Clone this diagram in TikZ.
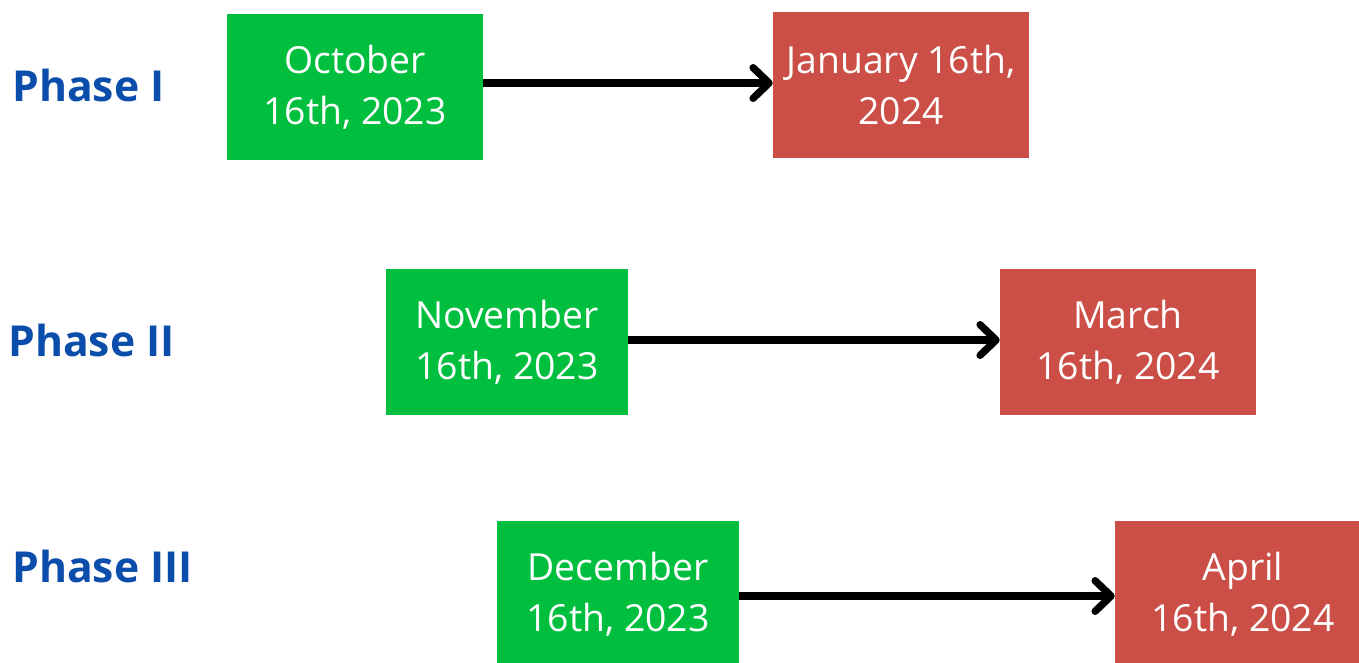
\documentclass[tikz,border=0pt]{standalone}
\usepackage{fontspec}
\setmainfont{Open Sans}
\usetikzlibrary{arrows.meta}
\definecolor{startgreen}{HTML}{00BF3F}
\definecolor{endred}{HTML}{CB4F46}
\definecolor{phaseblue}{HTML}{0B4DAA}
\begin{document}
\begin{tikzpicture}[x=0.75pt,y=-0.75pt,
    datebox/.style={minimum width=192pt,minimum height=109.5pt,inner sep=0pt,
      text=white,align=center,font=\fontsize{28}{38.5}\selectfont},
    startbox/.style={datebox,fill=startgreen},
    endbox/.style={datebox,fill=endred},
    phase/.style={anchor=west,inner sep=0pt,text=phaseblue,
      font=\fontsize{32}{38}\selectfont\bfseries},
    arr/.style={line width=5.5pt,-{Straight Barb[round,length=12pt,width=23pt]}}]
  \useasboundingbox (0,0) rectangle (1359,662);
  % phase I
  \node[phase] (p1) at (12,85) {Phase I};
  \node[startbox,minimum width=192pt] (g1) at (355,87) {October\\16th, 2023};
  \node[endbox] (r1) at (901,85) {January 16th,\\2024};
  \draw[arr] (g1.east |- 0,83) -- (r1.west |- 0,83);
  % phase II
  \node[phase] (p2) at (8,340) {Phase II};
  \node[startbox,minimum width=181.5pt] (g2) at (507,342) {November\\16th, 2023};
  \node[endbox] (r2) at (1128,342) {March\\16th, 2024};
  \draw[arr] (g2.east |- 0,340) -- (r2.west |- 0,340);
  % phase III
  \node[phase] (p3) at (12,566) {Phase III};
  \node[startbox,minimum width=181.5pt] (g3) at (618,594) {December\\16th, 2023};
  \node[endbox] (r3) at (1243,594) {April\\ 16th, 2024};
  \draw[arr] (g3.east |- 0,596) -- (r3.west |- 0,596);
\end{tikzpicture}
\end{document}
